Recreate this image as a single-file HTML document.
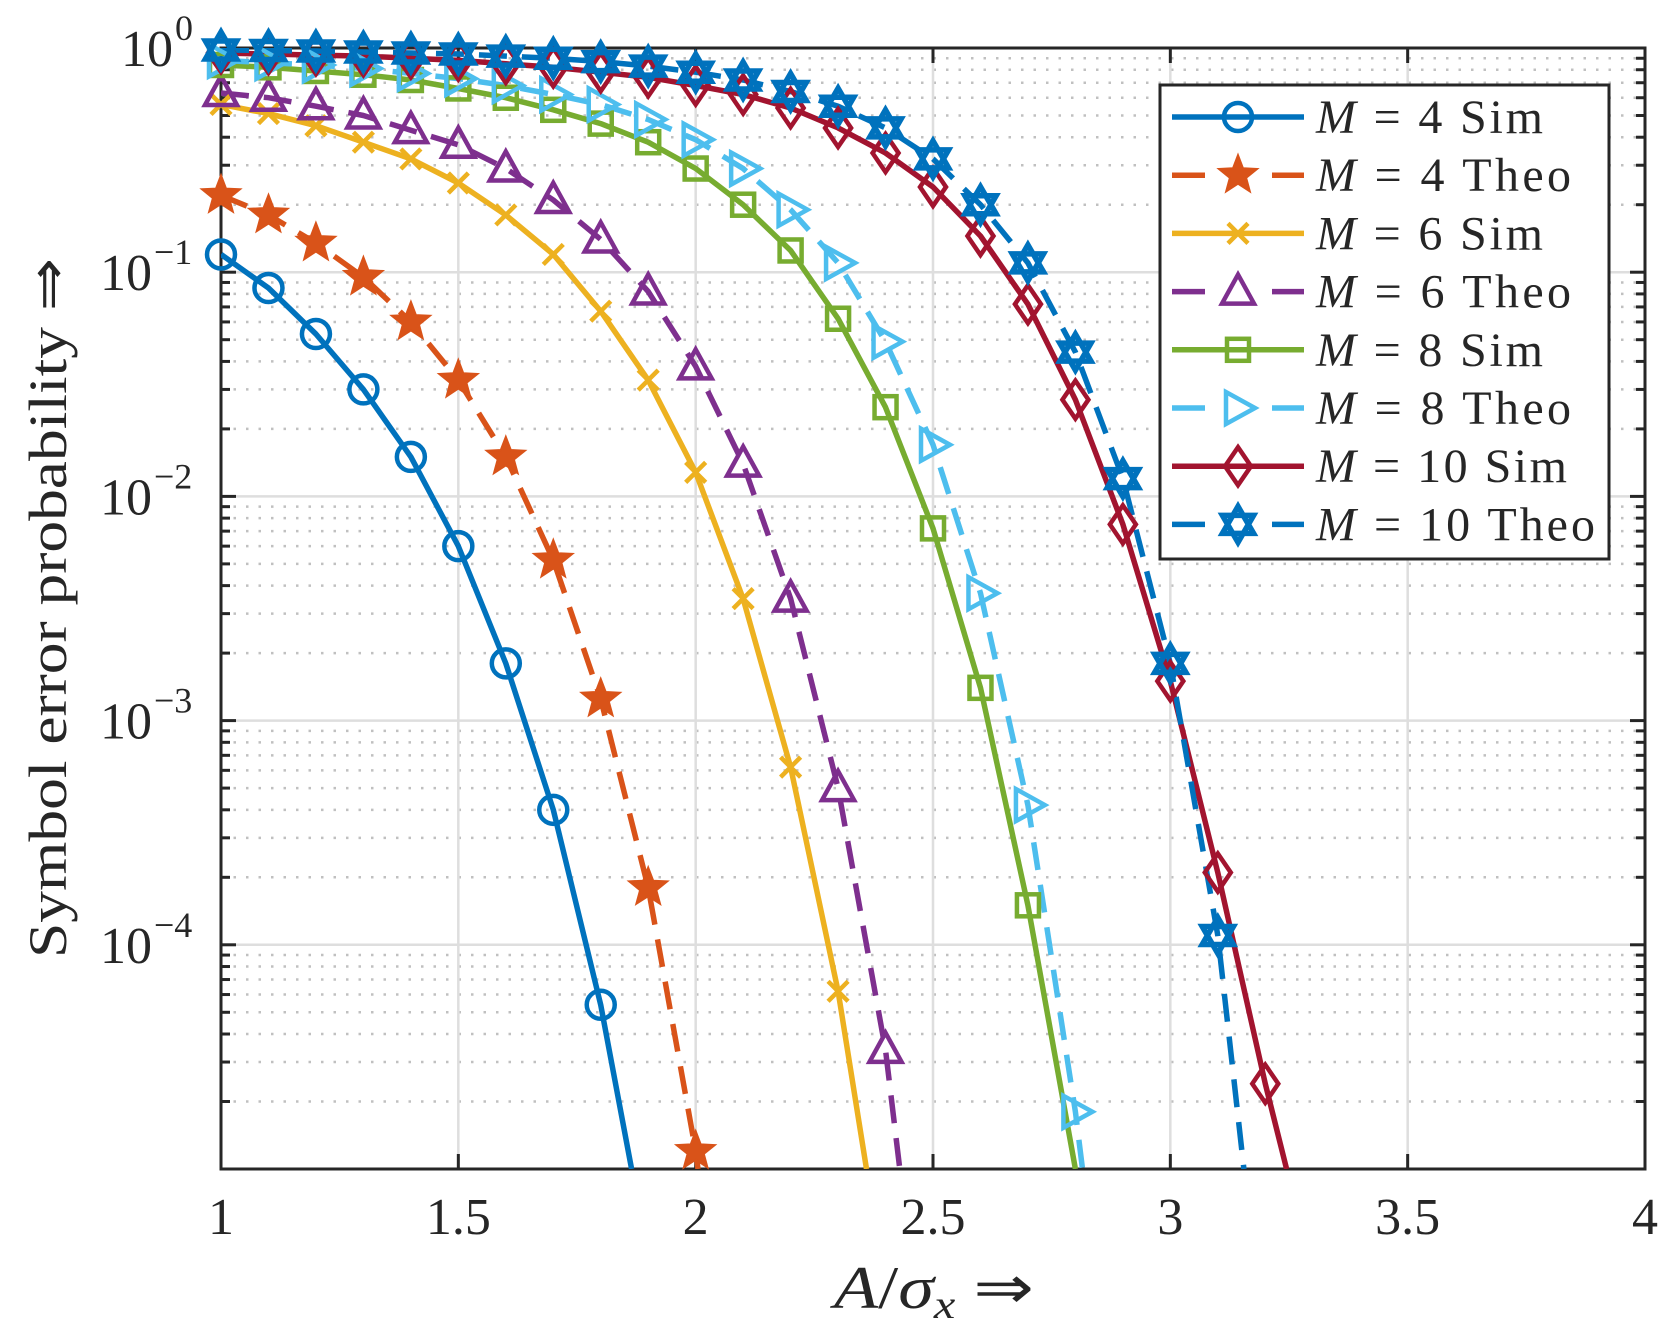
<!DOCTYPE html>
<html><head><meta charset="utf-8"><style>
html,body{margin:0;padding:0;background:#fff;}
svg{display:block;}
text{font-family:"Liberation Serif",serif;fill:#262626;}
</style></head><body>
<svg id="s" width="1680" height="1330" xmlns="http://www.w3.org/2000/svg"></svg>
<script>
const L=221,R=1645,T=48,B=1169;
const W=R-L,H=B-T;
const X=x=>L+(x-1)/3*W;
const Y=p=>T+(-Math.log10(p))/5*H;
let s='';
s+='<defs><clipPath id="c"><rect x="'+L+'" y="'+T+'" width="'+W+'" height="'+H+'"/></clipPath></defs>';
for(let d=0;d<5;d++){for(let k=2;k<=9;k++){const y=Y(k*Math.pow(10,-d-1));
s+=`<line x1="${L}" x2="${R}" y1="${y}" y2="${y}" stroke="#c0c0c0" stroke-width="2.5" stroke-dasharray="2.5 10"/>`;}}
for(let d=1;d<5;d++){const y=Y(Math.pow(10,-d));s+=`<line x1="${L}" x2="${R}" y1="${y}" y2="${y}" stroke="#dedede" stroke-width="2.5"/>`;}
for(let x=1.5;x<4;x+=0.5){const xx=X(x);s+=`<line x1="${xx}" x2="${xx}" y1="${T}" y2="${B}" stroke="#dedede" stroke-width="2.5"/>`;}
for(let d=0;d<=5;d++){for(let k=1;k<=9;k++){const p=k*Math.pow(10,-d);if(p>1||p<1e-5)continue;const y=Y(p);const len=k==1?15:9;
s+=`<line x1="${L}" x2="${L+len}" y1="${y}" y2="${y}" stroke="#262626" stroke-width="3"/><line x1="${R}" x2="${R-len}" y1="${y}" y2="${y}" stroke="#262626" stroke-width="3"/>`;}}
for(let x=1;x<=4.001;x+=0.5){const xx=X(x);s+=`<line x1="${xx}" x2="${xx}" y1="${B}" y2="${B-15}" stroke="#262626" stroke-width="3"/><line x1="${xx}" x2="${xx}" y1="${T}" y2="${T+15}" stroke="#262626" stroke-width="3"/>`;
s+=`<text x="${xx}" y="1234" font-size="52" text-anchor="middle">${x%1==0?x:x.toFixed(1)}</text>`;}
for(let d=0;d<=4;d++){const y=Y(Math.pow(10,-d));
const sup=d==0?'0':'\u2212'+d;
const ex=d==0?173:152;
s+=`<text x="${ex}" y="${y+18}" font-size="52" text-anchor="end">10</text><text x="${ex+2}" y="${y-8}" font-size="36">${sup}</text>`;}
s+=`<rect x="${L}" y="${T}" width="${W}" height="${H}" fill="none" stroke="#262626" stroke-width="3"/>`;
s+=`<text x="834" y="1308" font-size="60" textLength="200" lengthAdjust="spacingAndGlyphs"><tspan font-style="italic">A</tspan>/<tspan font-style="italic">σ</tspan><tspan font-style="italic" font-size="40" dy="10">x</tspan><tspan dy="-10"> ⇒</tspan></text>`;
s+=`<text transform="translate(66,608) rotate(-90)" font-size="54" text-anchor="middle" textLength="700" lengthAdjust="spacingAndGlyphs">Symbol error probability ⇒</text>`;
const series=[
{c:'#0072BD',d:0,m:'o',p:[0.12,0.085,0.053,0.030,0.015,0.006,0.0018,0.0004,5.4e-5],end:[1.865,1e-5]},
{c:'#D95319',d:1,m:'star',p:[0.22,0.18,0.135,0.095,0.06,0.033,0.015,0.0052,0.00125,0.00018,1.2e-5],end:[2.005,1e-5]},
{c:'#EDB120',d:0,m:'x',p:[0.56,0.51,0.45,0.38,0.32,0.25,0.18,0.12,0.067,0.033,0.0128,0.0035,0.00062,6.2e-5],end:[2.36,1e-5]},
{c:'#7E2F8E',d:1,m:'tri',p:[0.63,0.6,0.55,0.5,0.43,0.37,0.29,0.21,0.14,0.082,0.038,0.014,0.0035,0.0005,3.4e-5],end:[2.43,1e-5]},
{c:'#77AC30',d:0,m:'sq',p:[0.84,0.82,0.79,0.76,0.72,0.66,0.6,0.53,0.46,0.38,0.29,0.2,0.125,0.062,0.025,0.0072,0.0014,0.00015],end:[2.8,1e-5]},
{c:'#4DBEEE',d:1,m:'tr',p:[0.88,0.86,0.84,0.81,0.77,0.73,0.68,0.62,0.56,0.48,0.39,0.29,0.19,0.11,0.049,0.017,0.0037,0.00042,1.8e-5],end:[2.815,1e-5]},
{c:'#A2142F',d:0,m:'dia',p:[0.95,0.94,0.93,0.92,0.9,0.88,0.85,0.82,0.78,0.74,0.68,0.62,0.54,0.44,0.34,0.24,0.145,0.072,0.027,0.0075,0.0015,0.00021,2.4e-5],end:[3.245,1e-5]},
{c:'#0072BD',d:1,m:'hex',p:[0.98,0.975,0.97,0.96,0.95,0.94,0.92,0.9,0.87,0.83,0.78,0.72,0.64,0.55,0.44,0.32,0.2,0.11,0.044,0.012,0.0018,0.00011],end:[3.155,1e-5]}
];
function marker(m,x,y,c){
 const sw=4.5;
 switch(m){
 case 'o':return `<circle cx="${x}" cy="${y}" r="14" fill="none" stroke="${c}" stroke-width="${sw}"/>`;
 case 'x':return `<path d="M${x-10} ${y-10}L${x+10} ${y+10}M${x-10} ${y+10}L${x+10} ${y-10}" stroke="${c}" stroke-width="${sw}"/>`;
 case 'sq':return `<rect x="${x-11}" y="${y-11}" width="22" height="22" fill="none" stroke="${c}" stroke-width="${sw}"/>`;
 case 'tri':return `<path d="M${x} ${y-17}L${x+16} ${y+12}L${x-16} ${y+12}Z" fill="none" stroke="${c}" stroke-width="${sw}"/>`;
 case 'tr':return `<path d="M${x+17} ${y}L${x-12} ${y+16}L${x-12} ${y-16}Z" fill="none" stroke="${c}" stroke-width="${sw}"/>`;
 case 'dia':return `<path d="M${x} ${y-19}L${x+13} ${y}L${x} ${y+19}L${x-13} ${y}Z" fill="none" stroke="${c}" stroke-width="${sw}"/>`;
 case 'star':{let d='';for(let i=0;i<10;i++){const r=i%2?8.5:20;const a=-Math.PI/2+i*Math.PI/5;d+=(i?'L':'M')+(x+r*Math.cos(a)).toFixed(1)+' '+(y+r*Math.sin(a)).toFixed(1);}
  return `<path d="${d}Z" fill="${c}" stroke="${c}" stroke-width="2"/>`;}
 case 'hex':{const t=(o)=>{let d='';for(let i=0;i<3;i++){const a=o+i*2*Math.PI/3;d+=(i?'L':'M')+(x+18*Math.cos(a)).toFixed(1)+' '+(y+18*Math.sin(a)).toFixed(1);}return d+'Z';};
  return `<path d="${t(-Math.PI/2)}${t(Math.PI/2)}" fill="none" stroke="${c}" stroke-width="5.5"/>`;}
 }
}
let lines='',marks='';
series.forEach(se=>{
 const pts=se.p.map((p,i)=>[X(1+i*0.1),Y(p)]);
 pts.push([X(se.end[0]),Y(se.end[1])]);
 lines+=`<polyline points="${pts.map(q=>q[0].toFixed(1)+','+q[1].toFixed(1)).join(' ')}" fill="none" stroke="${se.c}" stroke-width="5.5" ${se.d?'stroke-dasharray="28 15"':''} stroke-linejoin="round"/>`;
 se.p.forEach((p,i)=>{marks+=marker(se.m,X(1+i*0.1),Y(p),se.c);});
});
s+=`<g clip-path="url(#c)">${lines}</g>${marks}`;
s+=`<rect x="1160" y="85" width="449" height="474" fill="#fff" stroke="#262626" stroke-width="3"/>`;
const labs=['4 Sim','4 Theo','6 Sim','6 Theo','8 Sim','8 Theo','10 Sim','10 Theo'];
const lens=[227,255,227,255,227,255,251,279];
series.forEach((se,i)=>{const y=117+i*58.2;
 if(se.d){s+=`<line x1="1172" x2="1205" y1="${y}" y2="${y}" stroke="${se.c}" stroke-width="5.5"/><line x1="1272" x2="1304" y1="${y}" y2="${y}" stroke="${se.c}" stroke-width="5.5"/>`;}
 else s+=`<line x1="1172" x2="1304" y1="${y}" y2="${y}" stroke="${se.c}" stroke-width="5.5"/>`;
 s+=marker(se.m,1238,y,se.c);
 s+=`<text x="1316" y="${y+16}" font-size="48" textLength="${lens[i]}" lengthAdjust="spacing"><tspan font-style="italic">M</tspan> = ${labs[i]}</text>`;
});
document.getElementById('s').innerHTML=s;
</script>
</body></html>
